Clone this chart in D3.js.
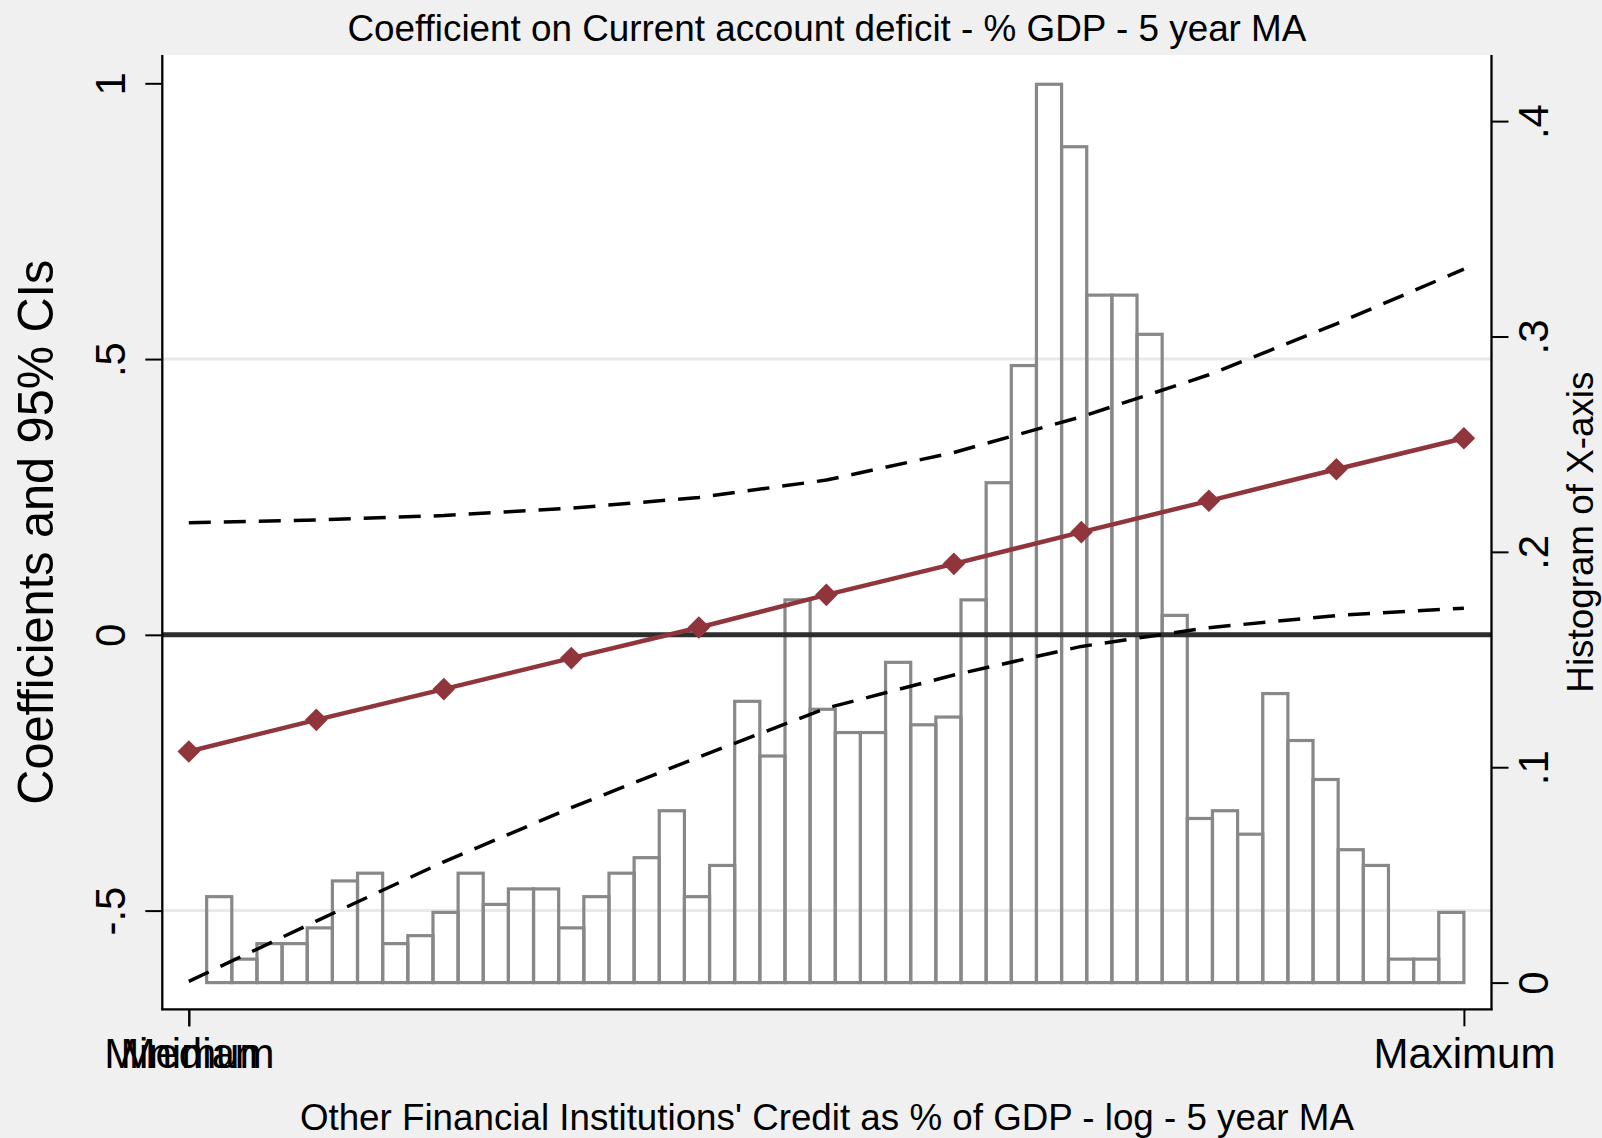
<!DOCTYPE html>
<html>
<head>
<meta charset="utf-8">
<script src="https://cdn.jsdelivr.net/npm/d3@7"></script>
<style>
  html, body { margin: 0; padding: 0; background: #f0f0f0; }
  svg { display: block; font-family: "Liberation Sans", Arial, Helvetica, sans-serif; }
</style>
</head>
<body>
<svg id="chart" width="1602" height="1138"></svg>
<script>
// Evaluation points of the marginal effect (0 = minimum, 10 = maximum)
const evalPoints = [0, 1, 2, 3, 4, 5, 6, 7, 8, 9, 10];
// Coefficient on the current account deficit and its 95% confidence band
const coef    = [-0.2115, -0.1541, -0.0984, -0.0422, 0.0132, 0.0725, 0.1287, 0.1862, 0.2430, 0.3003, 0.3565];
const ciUpper = [0.2030, 0.2084, 0.2163, 0.2296, 0.2490, 0.2806, 0.3306, 0.3954, 0.4715, 0.5640, 0.6630];
const ciLower = [-0.6284, -0.5190, -0.4115, -0.3135, -0.2215, -0.1330, -0.0728, -0.0210, 0.0130, 0.0350, 0.0484];

// Histogram of the x variable: 50 equal bins spanning histRange
const histRange = [0.14, 10];
const histDensity = [
  0.0399, 0.0109, 0.0181, 0.0181, 0.0254, 0.0472, 0.0508, 0.0181, 0.0218, 0.0326,
  0.0508, 0.0363, 0.0435, 0.0435, 0.0254, 0.0399, 0.0508, 0.0580, 0.0798, 0.0399,
  0.0544, 0.1306, 0.1052, 0.1777, 0.1269, 0.1161, 0.1161, 0.1487, 0.1197, 0.1233,
  0.1777, 0.2321, 0.2865, 0.4171, 0.3881, 0.3192, 0.3192, 0.3010, 0.1705, 0.0762,
  0.0798, 0.0689, 0.1342, 0.1124, 0.0943, 0.0617, 0.0544, 0.0109, 0.0109, 0.0326
];

// Axis ticks
const xTickValues = [0, 10];
const xTickLabels = ["Minimum", "Maximum"];
const xMedianValue = [0];
const xMedianLabel = ["Median"];
const yTickValues = [-0.5, 0, 0.5, 1];
const yTickLabels = ["-.5", "0", ".5", "1"];
const y2TickValues = [0, 0.1, 0.2, 0.3, 0.4];
const y2TickLabels = ["0", ".1", ".2", ".3", ".4"];
const gridValues = [-0.5, 0.5];

const titleText = "Coefficient on Current account deficit - % GDP - 5 year MA";
const xTitle = "Other Financial Institutions' Credit as % of GDP - log - 5 year MA";
const yTitle = "Coefficients and 95% CIs";
const y2Title = "Histogram of X-axis";

// ---- layout ----
const plot = { left: 162.3, right: 1491.5, top: 55, bottom: 1009.3 };
const svg = d3.select("#chart");

const x = d3.scaleLinear().domain([0, 10]).range([188.8, 1463.9]);
const y = d3.scaleLinear().domain([-0.5, 1]).range([910.6, 83.3]);
const y2 = d3.scaleLinear().domain([0, 0.4]).range([982.6, 121.1]);
const bin = d3.scaleBand().domain(d3.range(histDensity.length))
  .range([x(histRange[0]), x(histRange[1])]).paddingInner(0).paddingOuter(0);

// plot region
svg.append("rect")
  .attr("x", plot.left).attr("y", plot.top)
  .attr("width", plot.right - plot.left).attr("height", plot.bottom - plot.top)
  .attr("fill", "#ffffff");

// grid lines
svg.append("g").selectAll("line").data(gridValues).join("line")
  .attr("x1", plot.left).attr("x2", plot.right)
  .attr("y1", d => y(d)).attr("y2", d => y(d))
  .attr("stroke", "#e9e9e9").attr("stroke-width", 3);

// histogram (outlined, unfilled bars)
svg.append("g").selectAll("rect").data(histDensity).join("rect")
  .attr("x", (d, i) => bin(i))
  .attr("width", bin.bandwidth())
  .attr("y", d => y2(d))
  .attr("height", d => y2(0) - y2(d))
  .attr("fill", "none")
  .attr("stroke", "#888888")
  .attr("stroke-width", 3.2);

// zero reference line
svg.append("line")
  .attr("x1", plot.left).attr("x2", plot.right)
  .attr("y1", y(0)).attr("y2", y(0))
  .attr("stroke", "#2e2e2e").attr("stroke-width", 5);

// confidence band (dashed)
const line = d3.line().x((d, i) => x(evalPoints[i])).y(d => y(d));
[ciUpper, ciLower].forEach(series => {
  svg.append("path")
    .attr("d", line(series))
    .attr("fill", "none")
    .attr("stroke", "#000000")
    .attr("stroke-width", 3.5)
    .attr("stroke-dasharray", "22,13");
});

// coefficient line with diamond markers
const red = "#90353b";
svg.append("path")
  .attr("d", line(coef))
  .attr("fill", "none")
  .attr("stroke", red)
  .attr("stroke-width", 4.5)
  .attr("stroke-linejoin", "round");

const diamond = d3.symbol().type(d3.symbolSquare).size(256);
svg.append("g").selectAll("path").data(coef).join("path")
  .attr("d", diamond)
  .attr("transform", (d, i) => `translate(${x(evalPoints[i])},${y(d)}) rotate(45)`)
  .attr("fill", red);

// ---- axes ----
const axisColor = "#000000";
// axis lines spanning the plot region
svg.append("line").attr("x1", plot.left).attr("x2", plot.left)
  .attr("y1", plot.top).attr("y2", plot.bottom + 1)
  .attr("stroke", axisColor).attr("stroke-width", 2.3);
svg.append("line").attr("x1", plot.right).attr("x2", plot.right)
  .attr("y1", plot.top).attr("y2", plot.bottom + 1)
  .attr("stroke", axisColor).attr("stroke-width", 2.3);
svg.append("line").attr("x1", plot.left - 1).attr("x2", plot.right + 1)
  .attr("y1", plot.bottom).attr("y2", plot.bottom)
  .attr("stroke", axisColor).attr("stroke-width", 2.3);

function styleAxis(g) {
  g.select(".domain").remove();
  g.selectAll(".tick line").attr("stroke", axisColor).attr("stroke-width", 2);
  g.selectAll(".tick text").attr("fill", "#000").style("font-size", "42px")
    .style("font-family", "'Liberation Sans', Arial, Helvetica, sans-serif");
}

// left axis
const yAxis = svg.append("g").attr("transform", `translate(${plot.left},0)`)
  .call(d3.axisLeft(y).tickValues(yTickValues).tickSize(17)
    .tickFormat((d, i) => yTickLabels[i]));
styleAxis(yAxis);
yAxis.selectAll(".tick text")
  .attr("x", 0).attr("y", -37.8).attr("dy", null)
  .attr("text-anchor", "middle").attr("transform", "rotate(-90)");

// right axis (histogram density)
const y2Axis = svg.append("g").attr("transform", `translate(${plot.right},0)`)
  .call(d3.axisRight(y2).tickValues(y2TickValues).tickSize(17)
    .tickFormat((d, i) => y2TickLabels[i]));
styleAxis(y2Axis);
y2Axis.selectAll(".tick text")
  .attr("x", 0).attr("y", 56.5).attr("dy", null)
  .attr("text-anchor", "middle").attr("transform", "rotate(-90)");

// bottom axis
function bottomAxis(values, labels) {
  const g = svg.append("g").attr("transform", `translate(0,${plot.bottom})`)
    .call(d3.axisBottom(x).tickValues(values).tickSize(17)
      .tickFormat((d, i) => labels[i]));
  styleAxis(g);
  g.selectAll(".tick text").attr("y", 58.7).attr("dy", null);
}
bottomAxis(xTickValues, xTickLabels);
bottomAxis(xMedianValue, xMedianLabel);

// ---- titles ----
const cx = (plot.left + plot.right) / 2;
svg.append("text")
  .attr("x", cx).attr("y", 40.5)
  .attr("text-anchor", "middle")
  .attr("textLength", 959).attr("lengthAdjust", "spacingAndGlyphs")
  .style("font-size", "36px").attr("fill", "#000")
  .text(titleText);

svg.append("text")
  .attr("x", cx).attr("y", 1130)
  .attr("text-anchor", "middle")
  .attr("textLength", 1054).attr("lengthAdjust", "spacingAndGlyphs")
  .style("font-size", "36px").attr("fill", "#000")
  .text(xTitle);

svg.append("text")
  .attr("transform", `translate(52.5,${(plot.top + plot.bottom) / 2}) rotate(-90)`)
  .attr("text-anchor", "middle")
  .attr("textLength", 545).attr("lengthAdjust", "spacingAndGlyphs")
  .style("font-size", "50px").attr("fill", "#000")
  .text(yTitle);

svg.append("text")
  .attr("transform", `translate(1593,${(plot.top + plot.bottom) / 2}) rotate(-90)`)
  .attr("text-anchor", "middle")
  .attr("textLength", 321).attr("lengthAdjust", "spacingAndGlyphs")
  .style("font-size", "37px").attr("fill", "#000")
  .text(y2Title);
</script>
</body>
</html>
